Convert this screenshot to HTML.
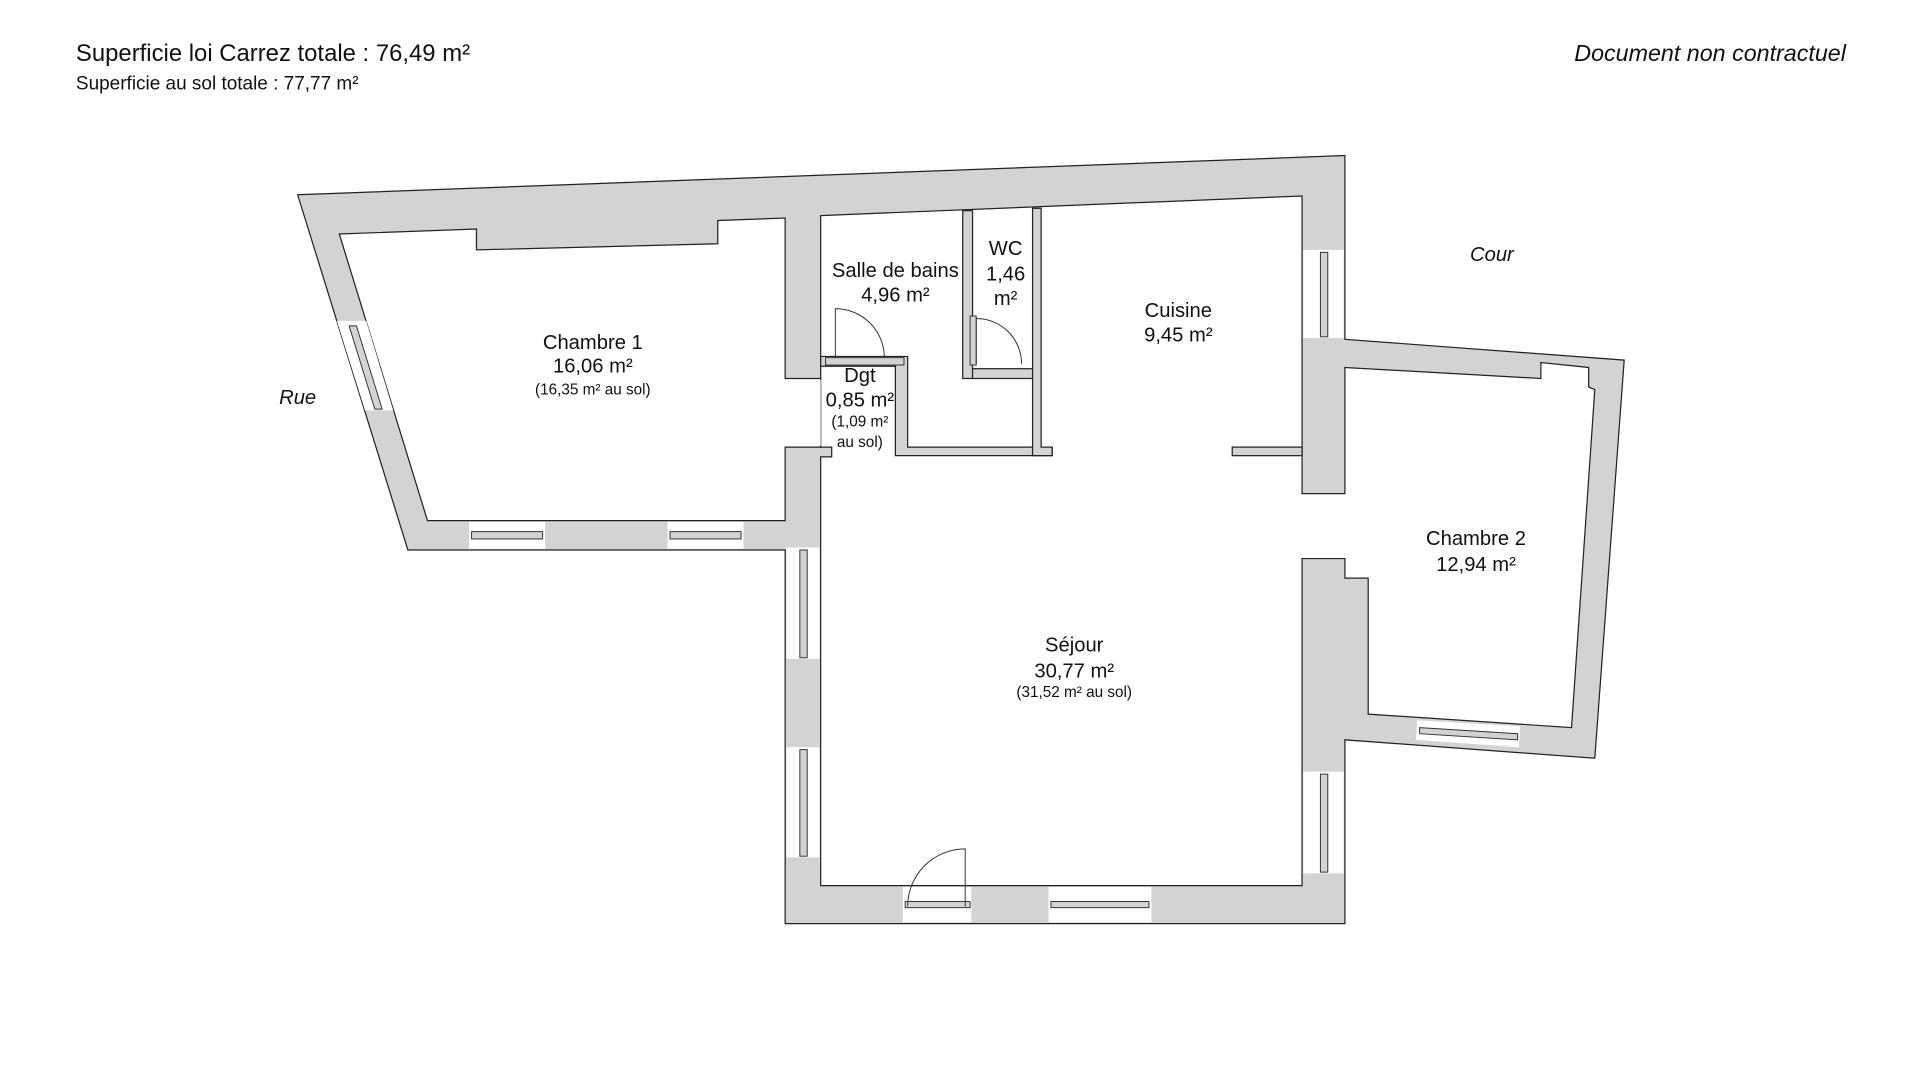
<!DOCTYPE html>
<html><head><meta charset="utf-8"><style>
html,body{margin:0;padding:0;background:#fff;}
svg{display:block;}
text{font-family:"Liberation Sans",sans-serif;fill:#111;}
</style></head><body>
<svg width="1920" height="1080" viewBox="0 0 1567.5 881.7" preserveAspectRatio="none" xmlns="http://www.w3.org/2000/svg">
<rect width="1567.5" height="881.7" fill="#fff"/>
<g stroke="#222" stroke-width="1">
<polygon fill="#d3d3d3" points="243,159 1098,127 1098,277 1326,294 1302,619 1098,604 1098,754 641,754 641,449 333,449"/>
<polygon fill="#fff" points="277,191 389,187 389,204 586,199 586,180 641,178 641,309 670,309 670,365 641,365 641,425 349,425"/>
<polygon fill="#fff" points="670,176 1063,160 1063,403 1098,403 1098,300 1258,309 1258,296 1297,300 1297,316 1302,318 1283,594 1117,583 1117,472 1098,472 1098,456 1063,456 1063,723 670,723 670,373 679,373 679,365 670,365"/>
<polygon fill="#d3d3d3" points="670,291 741,291 741,365 859,365 859,372 731,372 731,299 670,299"/>
<rect fill="#d3d3d3" x="786" y="172" width="8" height="137"/>
<rect fill="#d3d3d3" x="794" y="301" width="49" height="8"/>
<polygon fill="#d3d3d3" points="843,170 850,170 850,365 859,365 859,372 843,372"/>
<rect fill="#d3d3d3" x="1006" y="365" width="57" height="7"/>
</g>
<rect x="642" y="310" width="28" height="54" fill="#fff"/>
<g fill="#fff" stroke="none">
<polygon points="275,262 299,262 321,335 298,335"/>
<rect x="383" y="426" width="62" height="22"/>
<rect x="545" y="426" width="62" height="22"/>
<rect x="642" y="447" width="27" height="91"/>
<rect x="642" y="610" width="27" height="90"/>
<rect x="737" y="724" width="56" height="29"/>
<rect x="856" y="724" width="84" height="29"/>
<rect x="1064" y="630" width="33" height="83"/>
<rect x="1064" y="204" width="33" height="72"/>
<polygon points="1157,588 1241,593 1240,610 1156,604"/>
</g>
<g fill="#d3d3d3" stroke="#333" stroke-width="0.8">
<polygon points="285,266 291,266 312,334 306,334"/>
<rect x="385" y="434" width="58" height="6"/>
<rect x="547" y="434" width="58" height="6"/>
<rect x="653" y="449" width="6" height="88"/>
<rect x="653" y="612" width="6" height="87"/>
<rect x="739" y="736" width="53" height="5"/>
<rect x="858" y="736" width="80" height="5"/>
<rect x="1078" y="632" width="6" height="80"/>
<rect x="1078" y="206" width="6" height="69"/>
<polygon points="1159,594 1239,599 1239,604 1159,599"/>
<rect x="674" y="292" width="64" height="6"/>
<rect x="792" y="258" width="5" height="40"/>
</g>
<g fill="none" stroke="#333" stroke-width="0.8">
<path d="M682,292 L682,252 A40,40 0 0 1 722,292"/>
<path d="M797,297 L797,260 A37,37 0 0 1 834,297"/>
<path d="M788,740 L788,693 A47,47 0 0 0 741,740"/>
</g>
<text x="62" y="50" font-size="19.5">Superficie loi Carrez totale : 76,49 m²</text>
<text x="62" y="73" font-size="15.5">Superficie au sol totale : 77,77 m²</text>
<text x="1507" y="50" font-size="19" font-style="italic" text-anchor="end">Document non contractuel</text>
<g text-anchor="middle" font-size="16.5">
<text x="484" y="285">Chambre 1</text><text x="484" y="304">16,06 m²</text>
<text x="484" y="322" font-size="12.5">(16,35 m² au sol)</text>
<text x="731" y="226">Salle de bains</text><text x="731" y="246">4,96 m²</text>
<text x="821" y="208">WC</text><text x="821" y="229">1,46</text><text x="821" y="249">m²</text>
<text x="702" y="312">Dgt</text><text x="702" y="332">0,85 m²</text>
<text x="702" y="348" font-size="12.5">(1,09 m²</text><text x="702" y="365" font-size="12.5">au sol)</text>
<text x="962" y="259">Cuisine</text><text x="962" y="279">9,45 m²</text>
<text x="1205" y="445">Chambre 2</text><text x="1205" y="466">12,94 m²</text>
<text x="877" y="532">Séjour</text><text x="877" y="553">30,77 m²</text>
<text x="877" y="569" font-size="12.5">(31,52 m² au sol)</text>
<text x="243" y="330" font-style="italic" font-size="16.5">Rue</text>
<text x="1218" y="213" font-style="italic" font-size="16.5">Cour</text>
</g>
</svg>
</body></html>
